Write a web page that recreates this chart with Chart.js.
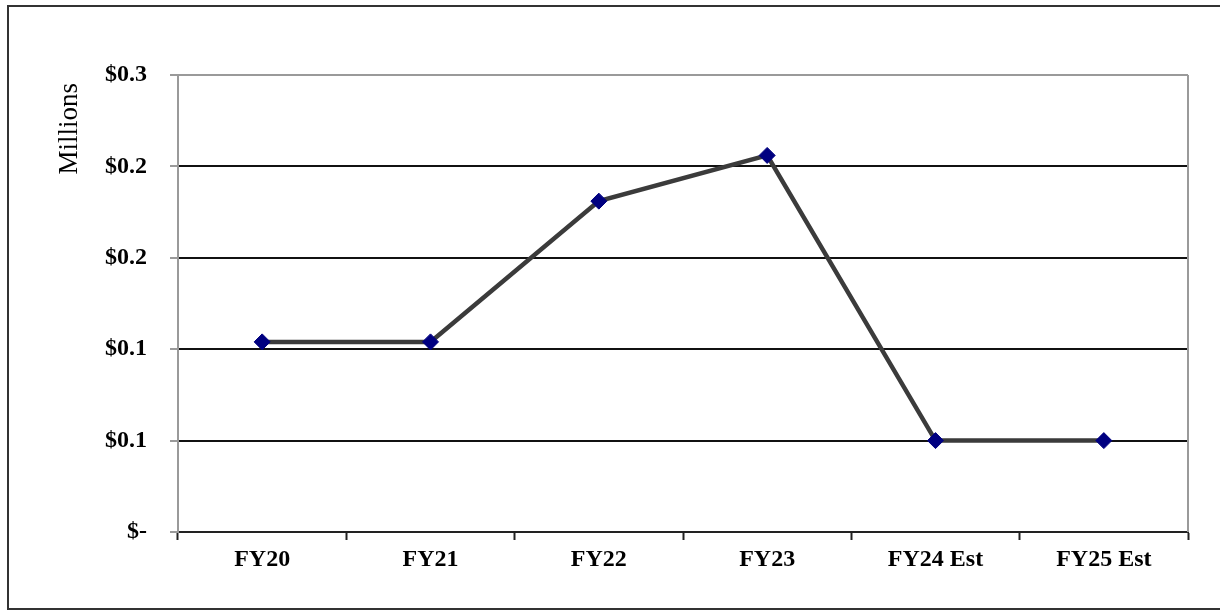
<!DOCTYPE html>
<html>
<head>
<meta charset="utf-8">
<title>Millions by fiscal year</title>
<script src="https://cdn.jsdelivr.net/npm/chart.js@4/dist/chart.umd.min.js"></script>
<style>
  html, body { margin: 0; padding: 0; background: #ffffff; }
  #wrap { width: 1220px; height: 612px; }
</style>
</head>
<body>
<div id="wrap"><canvas id="chart" width="1220" height="612"></canvas></div>
<script>
// Fiscal years on the category axis
const categories = ['FY20', 'FY21', 'FY22', 'FY23', 'FY24 Est', 'FY25 Est'];
// Amounts in millions of dollars
const amounts = [0.104, 0.104, 0.181, 0.206, 0.05, 0.05];
// Value-axis tick values and their printed labels (one decimal place)
const tickValues = [0, 0.05, 0.1, 0.15, 0.2, 0.25];
const tickLabels = ['$-', '$0.1', '$0.1', '$0.2', '$0.2', '$0.3'];
const axisTitle = 'Millions';

const SERIF = '"Liberation Serif", "Times New Roman", serif';

// Outer frame, plot-area frame and the rotated axis title
const framePlugin = {
  id: 'frame',
  beforeDraw(chart) {
    const ctx = chart.ctx;
    ctx.save();
    ctx.fillStyle = '#ffffff';
    ctx.fillRect(0, 0, chart.width, chart.height);
    ctx.strokeStyle = '#333333';
    ctx.lineWidth = 2;
    ctx.strokeRect(8, 6, chart.width + 10, 603);
    ctx.restore();
  },
  afterDatasetsDraw(chart) {},
  afterDraw(chart) {
    const ctx = chart.ctx;
    const a = chart.chartArea;
    ctx.save();
    ctx.strokeStyle = '#9a9a9a';
    ctx.lineWidth = 2;
    ctx.beginPath();
    ctx.moveTo(a.right, a.top);
    ctx.lineTo(a.right, a.bottom);
    ctx.stroke();
    // axis title
    ctx.translate(70, 83);
    ctx.rotate(-Math.PI / 2);
    ctx.font = '27px ' + SERIF;
    ctx.fillStyle = '#000000';
    ctx.textAlign = 'right';
    ctx.textBaseline = 'middle';
    ctx.fillText(axisTitle, 0, 0);
    ctx.restore();
  }
};

new Chart(document.getElementById('chart'), {
  type: 'line',
  data: {
    labels: categories,
    datasets: [{
      data: amounts,
      borderColor: '#3b3b3b',
      borderWidth: 4.5,
      tension: 0,
      pointStyle: 'rectRot',
      pointRadius: 8,
      pointHoverRadius: 8,
      pointBackgroundColor: '#000080',
      pointBorderColor: '#000080',
      pointBorderWidth: 1,
      clip: false
    }]
  },
  options: {
    responsive: false,
    animation: false,
    events: [],
    layout: { padding: { left: 0, top: 75, right: 32, bottom: 0 } },
    plugins: {
      legend: { display: false },
      tooltip: { enabled: false }
    },
    scales: {
      x: {
        offset: true,
        afterFit(scale) { scale.height = 80; },
        grid: {
          offset: true,
          drawOnChartArea: false,
          drawTicks: true,
          tickLength: 8,
          tickColor: '#222222',
          tickWidth: 2
        },
        border: { color: '#222222', width: 2 },
        ticks: {
          padding: 5,
          color: '#000000',
          font: { family: SERIF, size: 24, weight: 'bold' },
          maxRotation: 0,
          autoSkip: false
        }
      },
      y: {
        min: 0,
        max: 0.25,
        afterFit(scale) { scale.width = 178; },
        afterBuildTicks(scale) {
          scale.ticks = tickValues.map(v => ({ value: v }));
        },
        grid: {
          drawTicks: true,
          tickLength: 8,
          tickColor: '#9a9a9a',
          tickWidth: 2,
          lineWidth: 2,
          color(ctx) {
            return ctx.tick && ctx.tick.value === 0.25 ? '#9a9a9a' : '#111111';
          }
        },
        border: { color: '#9a9a9a', width: 2 },
        ticks: {
          padding: 23,
          color: '#000000',
          font: { family: SERIF, size: 24, weight: 'bold' },
          callback(value, index) { return tickLabels[index]; }
        }
      }
    }
  },
  plugins: [framePlugin]
});
</script>
</body>
</html>
